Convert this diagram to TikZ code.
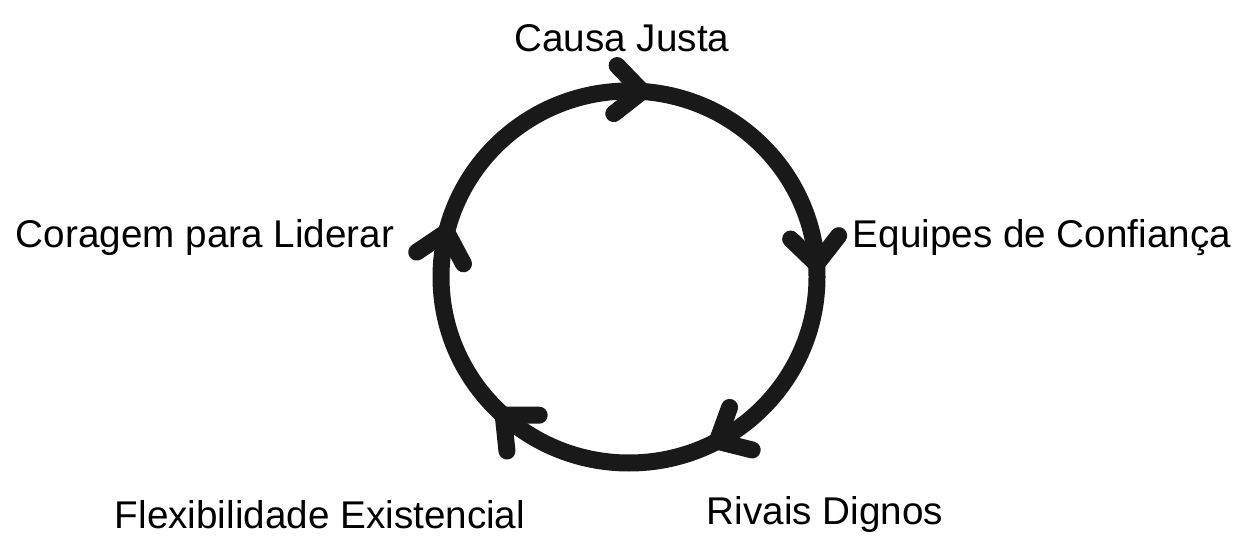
\documentclass[tikz,border=0pt]{standalone}
\usepackage{fontspec}
\setmainfont{Liberation Sans}
\usetikzlibrary{calc}
\tikzset{
  ring/.style={line width=0.34cm, black!90},
  chev/.style={line width=0.34cm, black!90, line cap=round, line join=round},
  lbl/.style={font=\fontsize{22}{26}\selectfont, inner sep=0pt, text=black}
}
\begin{document}
\begin{tikzpicture}[x=0.02cm,y=0.02cm]
\useasboundingbox (0,0) rectangle (1240,548);
\coordinate (c) at (629,271);
\draw[ring] (c) ellipse [x radius=188, y radius=186];
\foreach \a in {86,4,-62,-132,166}{
  \coordinate (t) at ($(c)+(\a:188 and 186)$);
  \draw[chev] ($(t)+(\a+90+42:36)$) -- (t) -- ($(t)+(\a+90-42:36)$);
}
\node[lbl] (cj) at (622,510) {Causa Justa};
\node[lbl] (ec) at (1042,310) {Equipes de Confiança};
\node[lbl] (cl) at (205,310) {Coragem para Liderar};
\node[lbl] (fe) at (320,33) {Flexibilidade Existencial};
\node[lbl] (rd) at (825,33) {Rivais Dignos};
\end{tikzpicture}
\end{document}
